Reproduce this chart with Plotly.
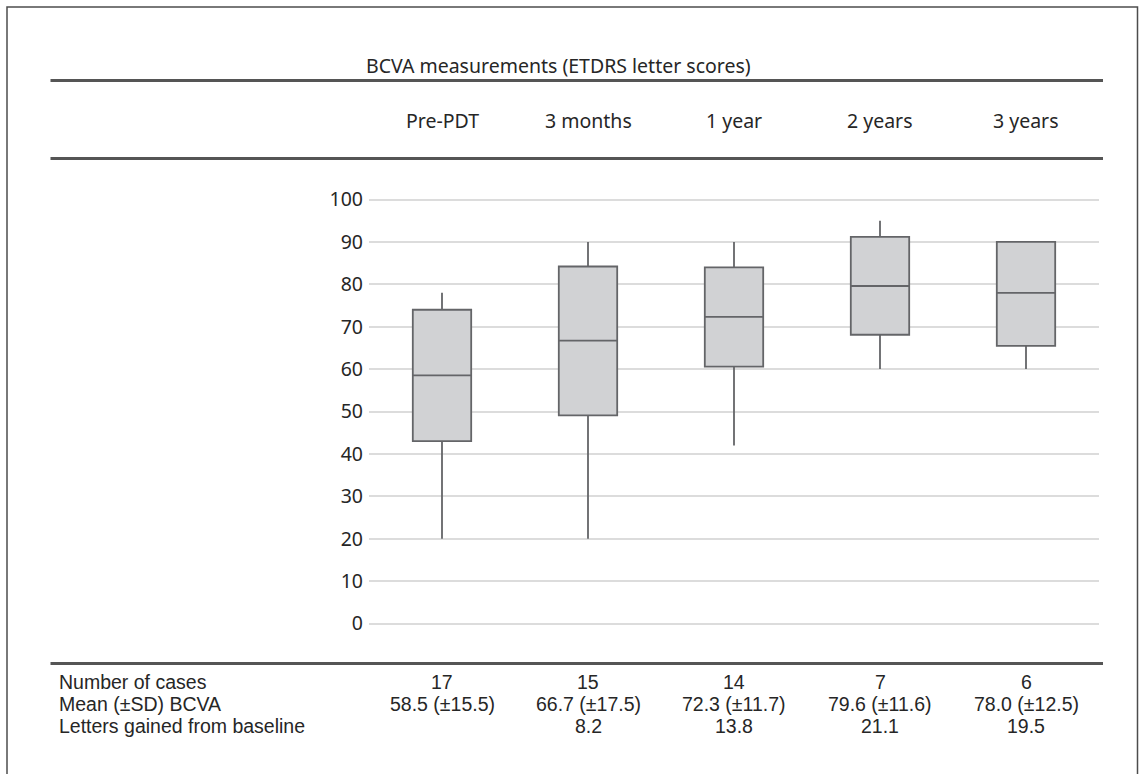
import plotly.graph_objects as go

# ---------------- data ----------------
categories = ["Pre-PDT", "3 months", "1 year", "2 years", "3 years"]
lower_whisker = [20, 20, 42, 60, 60]
q1_values = [43.0, 49.1, 60.6, 68.1, 65.5]
median_values = [58.5, 66.7, 72.3, 79.6, 78.0]
q3_values = [74.0, 84.2, 84.0, 91.2, 90.0]
upper_whisker = [78, 90, 90, 95, 90]

row_labels = ["Number of cases", "Mean (\u00b1SD) BCVA", "Letters gained from baseline"]
n_cases = ["17", "15", "14", "7", "6"]
mean_sd = ["58.5 (\u00b115.5)", "66.7 (\u00b117.5)", "72.3 (\u00b111.7)", "79.6 (\u00b111.6)", "78.0 (\u00b112.5)"]
letters_gained = ["", "8.2", "13.8", "21.1", "19.5"]
y_ticks = [0, 10, 20, 30, 40, 50, 60, 70, 80, 90, 100]
title_text = "BCVA measurements (ETDRS letter scores)"

# ---------------- layout geometry (pixels) ----------------
W, H = 1143, 774
PL, PR, PT, PB = 369, 1099, 170, 650
PX_PER_UNIT = 4.24
Y0_PIX = 623.5
y_top = (Y0_PIX - PT) / PX_PER_UNIT
y_bot = (Y0_PIX - PB) / PX_PER_UNIT

def px_x(px):
    return (px - PL) / (PR - PL)

def px_y(py):
    return (PB - py) / (PB - PT)

FONT = "Noto Sans"
ROW_FONT = "Liberation Sans"
FS = 19.5
FS_ROW = 19.5
TXT = "#262626"

fig = go.Figure()
fig.add_trace(go.Box(
    x=categories,
    q1=q1_values,
    median=median_values,
    q3=q3_values,
    lowerfence=lower_whisker,
    upperfence=upper_whisker,
    width=0.4,
    whiskerwidth=0,
    fillcolor="#d1d2d4",
    line=dict(color="#646568", width=1.8),
    boxpoints=False,
    showlegend=False,
    hoverinfo="skip",
))

shapes = []
# outer frame
shapes.append(dict(type="rect", xref="paper", yref="paper",
                   x0=px_x(7), x1=px_x(1137.5), y0=px_y(7), y1=px_y(800),
                   line=dict(color="#4d4d4d", width=1.5), fillcolor="rgba(0,0,0,0)", layer="above"))
# horizontal rules
for py in [80.5, 158.5, 663.5]:
    shapes.append(dict(type="line", xref="paper", yref="paper",
                       x0=px_x(50.5), x1=px_x(1103), y0=px_y(py), y1=px_y(py),
                       line=dict(color="#555555", width=2.8)))

annotations = []
annotations.append(dict(text=title_text, xref="paper", yref="paper",
                        x=px_x(558), y=px_y(65), xanchor="center", yanchor="middle",
                        showarrow=False, font=dict(family=FONT, size=FS, color=TXT)))
for c in categories:
    annotations.append(dict(text=c, xref="x", yref="paper", x=c, y=px_y(120.5),
                            xanchor="center", yanchor="middle", showarrow=False,
                            font=dict(family=FONT, size=FS, color=TXT)))
row_ys = [681.5, 703.5, 725.5]
for lbl, ry in zip(row_labels, row_ys):
    annotations.append(dict(text=lbl, xref="paper", yref="paper", x=px_x(58), y=px_y(ry),
                            xanchor="left", yanchor="middle", showarrow=False,
                            borderpad=0, font=dict(family=ROW_FONT, size=FS_ROW, color=TXT)))
for row_vals, ry in zip([n_cases, mean_sd, letters_gained], row_ys):
    for c, v in zip(categories, row_vals):
        if v:
            annotations.append(dict(text=v, xref="x", yref="paper", x=c, y=px_y(ry),
                                    xanchor="center", yanchor="middle", showarrow=False,
                                    borderpad=0,
                                    font=dict(family=ROW_FONT, size=FS_ROW, color=TXT)))

fig.update_layout(
    width=W, height=H,
    margin=dict(l=PL, r=W - PR, t=PT, b=H - PB, pad=0),
    paper_bgcolor="white", plot_bgcolor="white",
    shapes=shapes, annotations=annotations,
    font=dict(family=FONT, size=FS, color=TXT),
    xaxis=dict(type="category", range=[-0.5, 4.5], showticklabels=False, showgrid=False,
               zeroline=False, showline=False, ticks=""),
    yaxis=dict(range=[y_bot, y_top], tickvals=y_ticks, showgrid=True, gridcolor="#dcdcdc",
               gridwidth=1.6, zeroline=False, showline=False, ticks="",
               ticklabelstandoff=5, tickfont=dict(family=FONT, size=FS, color=TXT)),
)

fig.write_html("out.html", config={"displayModeBar": False},
               post_script="document.body.style.margin='0px';document.body.style.overflow='hidden';")
